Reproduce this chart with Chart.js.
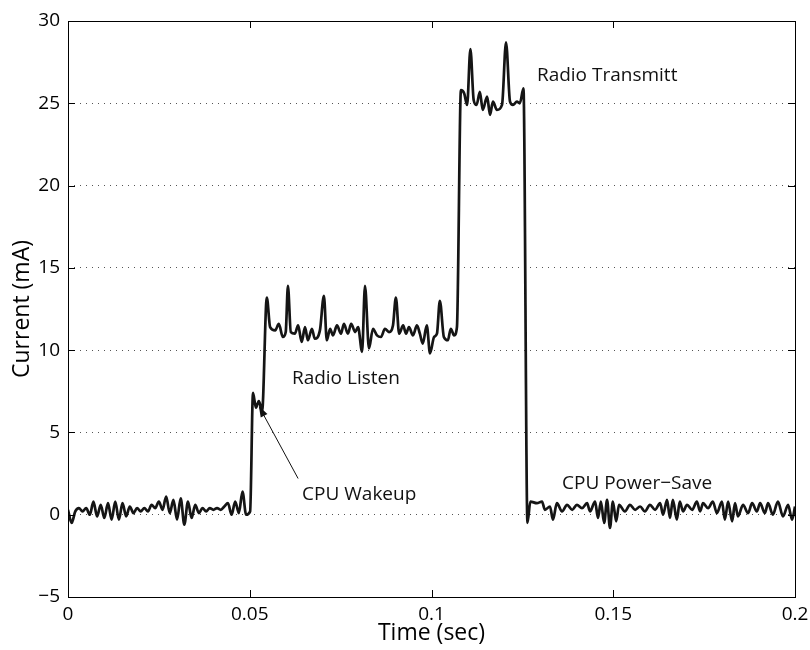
<!DOCTYPE html>
<html><head><meta charset="utf-8">
<script src="https://cdn.jsdelivr.net/npm/chart.js@4.4.1/dist/chart.umd.min.js"></script>
<style>html,body{margin:0;padding:0;background:#fff}canvas{display:block}</style>
</head><body>
<canvas id="c" width="810" height="650"></canvas>
<script>
// ---- data (time in ms, current in mA) ----
const idleTimeMs = [0,1,2,3,4,5,6,7,8,9,10,11,12,13,14,15,16,17,18,19,20,21,22,23,24,25,26,27,28,29,30,31,32,33,34,35,36,37,38,39,40,41,42,43,44,45,46,47,48,49];
const idleCurrentMA = [0.3,-0.5,0.2,0.4,0.2,0.4,0.0,0.8,-0.1,0.6,-0.2,0.7,-0.3,0.8,-0.3,0.7,-0.1,0.5,0.1,0.4,0.2,0.4,0.2,0.6,0.4,0.8,0.3,1.1,0.1,0.9,-0.3,1.0,-0.6,0.8,-0.2,0.6,0.1,0.4,0.2,0.4,0.3,0.4,0.3,0.5,0.7,0.0,0.8,0.1,1.4,0.0];

const wakeupTimeMs = [50.1,50.9,51.7,52.5,53.4];
const wakeupCurrentMA = [0.2,7.4,6.5,6.9,6.3];

const listenTimeMs = [54.7,55.6,57.0,58.0,59.1,59.9,60.5,61.3,62.4,63.3,64.3,65.2,66.0,67.1,67.9,69.3,70.4,71.2,72.1,72.9,74.0,75.1,75.9,77.0,77.9,79.0,79.8,80.9,81.7,82.8,83.9,85.0,86.1,87.2,88.3,89.4,90.2,91.1,92.2,93.0,93.8,94.9,96.0,96.8,97.6,98.7,99.6,100.7,101.5,102.3,103.4,104.5,105.3,106.2,107.0];
const listenCurrentMA = [13.2,11.4,11.2,11.6,10.8,11.1,13.9,11.1,11.0,11.5,10.5,11.4,10.6,11.3,10.7,11.2,13.3,10.6,11.3,10.9,11.5,11.0,11.6,11.0,11.6,11.1,11.4,9.9,13.9,10.1,11.3,10.9,10.8,11.3,11.1,11.5,13.2,11.0,11.5,11.0,11.4,10.9,11.5,11.0,10.4,11.5,9.8,10.8,11.0,13.0,10.8,10.6,11.3,10.9,11.4];

const transmitTimeMs = [108.1,109.0,109.8,110.7,111.6,112.4,113.3,114.1,115.3,116.1,116.9,118.0,119.4,120.5,121.6,122.4,123.5,124.3,125.3];
const transmitCurrentMA = [25.8,25.6,24.9,28.3,25.2,24.9,25.7,24.6,25.4,24.3,25.1,24.6,24.9,28.7,25.1,24.9,25.1,25.0,25.9];

const powerSaveTimeMs = [126.4,127.2,129.0,130.4,131.2,132.6,133.4,134.5,135.9,137.3,138.7,140.0,141.4,142.8,143.6,145.0,145.8,146.6,147.5,148.3,149.1,149.9,150.8,151.6,153.2,154.6,156.0,157.4,158.7,160.1,161.5,162.9,163.7,164.8,165.6,166.4,167.5,168.3,169.2,170.3,171.7,173.0,173.9,174.7,176.1,177.4,178.5,179.9,180.7,181.6,182.7,183.5,184.3,185.7,187.1,188.2,189.5,190.4,191.7,192.6,193.9,195.3,196.7,198.1,199.2,200.0];
const powerSaveCurrentMA = [-0.5,0.8,0.7,0.8,0.3,0.5,-0.3,0.7,0.2,0.6,0.3,0.6,0.4,0.7,0.2,0.8,-0.2,0.8,-0.5,0.9,-0.8,0.8,-0.4,0.6,0.2,0.6,0.3,0.5,0.2,0.6,0.3,0.7,0.0,0.9,-0.2,0.9,-0.3,0.8,0.2,0.6,0.3,0.8,0.2,0.7,0.4,0.8,0.1,0.8,-0.3,0.8,-0.4,0.7,-0.1,0.6,0.1,0.7,0.2,0.7,0.1,0.7,0.0,0.8,-0.1,0.6,-0.3,0.5];

const xTickValues = [0, 0.05, 0.1, 0.15, 0.2];
const xTickLabels = ['0', '0.05', '0.1', '0.15', '0.2'];
const yTickValues = [-5, 0, 5, 10, 15, 20, 25, 30];
const yTickLabels = ['\u22125', '0', '5', '10', '15', '20', '25', '30'];

const annotationTexts = ['Radio Transmitt', 'Radio Listen', 'CPU Wakeup', 'CPU Power\u2212Save'];
const annotationTimes = [0.129, 0.0616, 0.0644, 0.1359];
const annotationCurrents = [26.7, 8.25, 1.2, 1.87];
const arrowFrom = {t: 0.0633, v: 2.2};
const arrowTo = {t: 0.0525, v: 6.6};

// ---- build points ----
function seg(ts, vs) { return ts.map((t, i) => ({x: t / 1000, y: vs[i]})); }
const points = [].concat(
  seg(idleTimeMs, idleCurrentMA),
  seg(wakeupTimeMs, wakeupCurrentMA),
  seg(listenTimeMs, listenCurrentMA),
  seg(transmitTimeMs, transmitCurrentMA),
  seg(powerSaveTimeMs, powerSaveCurrentMA)
);

const FONT = "'Open Sans', 'Liberation Sans', sans-serif";
Chart.defaults.font.family = FONT;
Chart.defaults.color = '#000';

const TICK = 7;
const frameAndTicks = {
  id: 'frameAndTicks',
  afterDatasetsDraw(chart) {
    const {ctx, chartArea: a, scales: {x, y}} = chart;
    ctx.save();
    // annotations
    ctx.fillStyle = '#111';
    ctx.font = '19px ' + FONT;
    ctx.textAlign = 'left';
    ctx.textBaseline = 'middle';
    annotationTexts.forEach((txt, i) => {
      ctx.fillText(txt, x.getPixelForValue(annotationTimes[i]), y.getPixelForValue(annotationCurrents[i]));
    });
    // arrow
    const x1 = x.getPixelForValue(arrowFrom.t), y1 = y.getPixelForValue(arrowFrom.v);
    const x2 = x.getPixelForValue(arrowTo.t), y2 = y.getPixelForValue(arrowTo.v);
    const ang = Math.atan2(y2 - y1, x2 - x1);
    const L = 11, W = 3.8;
    ctx.strokeStyle = '#111';
    ctx.lineWidth = 1;
    ctx.beginPath();
    ctx.moveTo(x1, y1);
    ctx.lineTo(x2 - L * 0.8 * Math.cos(ang), y2 - L * 0.8 * Math.sin(ang));
    ctx.stroke();
    ctx.beginPath();
    ctx.moveTo(x2, y2);
    ctx.lineTo(x2 - L * Math.cos(ang) + W * Math.sin(ang), y2 - L * Math.sin(ang) - W * Math.cos(ang));
    ctx.lineTo(x2 - L * Math.cos(ang) - W * Math.sin(ang), y2 - L * Math.sin(ang) + W * Math.cos(ang));
    ctx.closePath();
    ctx.fill();
    // inward ticks + frame
    ctx.strokeStyle = '#000';
    ctx.lineWidth = 1;
    ctx.beginPath();
    x.ticks.forEach(t => {
      const px = Math.round(x.getPixelForValue(t.value)) + 0.5;
      ctx.moveTo(px, a.bottom); ctx.lineTo(px, a.bottom - TICK);
      ctx.moveTo(px, a.top); ctx.lineTo(px, a.top + TICK);
    });
    y.ticks.forEach(t => {
      const py = Math.round(y.getPixelForValue(t.value)) + 0.5;
      ctx.moveTo(a.left, py); ctx.lineTo(a.left + TICK, py);
      ctx.moveTo(a.right, py); ctx.lineTo(a.right - TICK, py);
    });
    ctx.stroke();
    ctx.strokeRect(Math.round(a.left) + 0.5, Math.round(a.top) + 0.5, Math.round(a.right - a.left), Math.round(a.bottom - a.top));
    ctx.restore();
  }
};

new Chart(document.getElementById('c'), {
  type: 'line',
  data: {
    datasets: [{
      data: points,
      borderColor: '#151515',
      borderWidth: 2.7,
      pointRadius: 0,
      fill: false,
      cubicInterpolationMode: 'monotone'
    }]
  },
  options: {
    responsive: false,
    animation: false,
    devicePixelRatio: 1,
    layout: {padding: {left: 0, right: 15, top: 21, bottom: 0}},
    plugins: {legend: {display: false}, tooltip: {enabled: false}},
    scales: {
      x: {
        type: 'linear', min: 0, max: 0.2,
        afterBuildTicks: s => { s.ticks = xTickValues.map(v => ({value: v})); },
        afterFit: s => { s.height = 53; s.paddingLeft = 0; s.paddingRight = 0; },
        grid: {display: false, drawTicks: false},
        border: {display: false},
        ticks: {
          autoSkip: false, maxRotation: 0, padding: 6,
          font: {size: 19}, color: '#000',
          callback: v => xTickLabels[xTickValues.indexOf(v)]
        },
        title: {display: true, text: 'Time (sec)', font: {size: 23}, color: '#000', padding: {top: 0, bottom: 3}}
      },
      y: {
        type: 'linear', min: -5, max: 30,
        afterBuildTicks: s => { s.ticks = yTickValues.map(v => ({value: v})); },
        afterFit: s => { s.width = 68; s.paddingTop = 0; s.paddingBottom = 0; },
        grid: {display: true, drawTicks: false, color: '#555', lineWidth: 1},
        border: {display: false, dash: [1, 5]},
        ticks: {
          autoSkip: false, padding: 8,
          font: {size: 19}, color: '#000',
          callback: v => yTickLabels[yTickValues.indexOf(v)]
        },
        title: {display: true, text: 'Current (mA)', font: {size: 23}, color: '#000', padding: {top: 9, bottom: 0}}
      }
    }
  },
  plugins: [frameAndTicks]
});
</script>
</body></html>
